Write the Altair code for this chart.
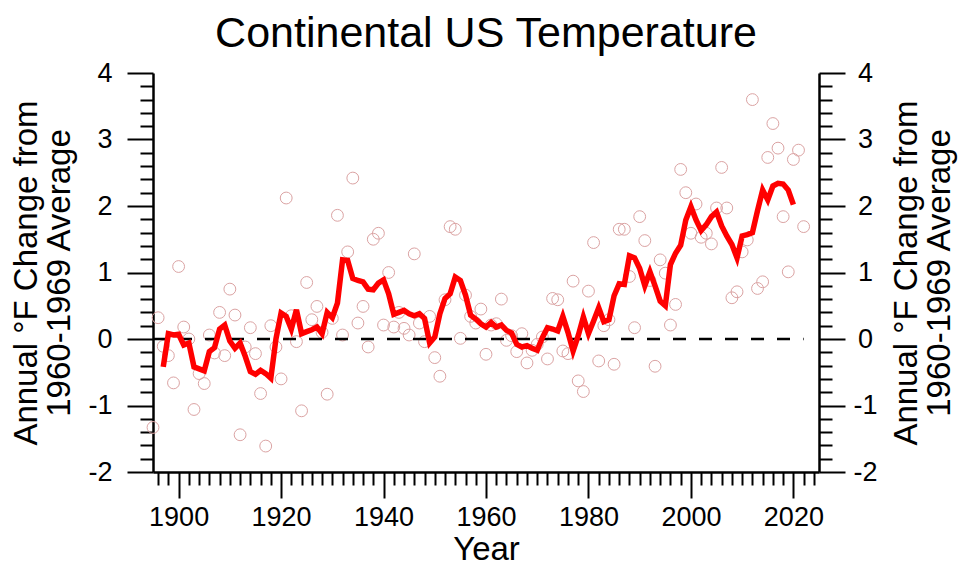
import altair as alt
import pandas as pd

# ---- data ----
YEARS = list(range(1895, 2023))
ANNUAL = [
    -1.33, 0.32, -0.11, -0.25, -0.66, 1.09, 0.18, 0.00, -1.06, -0.52,   # 1895-1904
    -0.67, 0.06, -0.21, 0.40, -0.25, 0.75, 0.36, -1.44, -0.12, 0.17,     # 1905-1914
    -0.22, -0.82, -1.61, 0.20, -0.12, -0.60, 2.12, 0.35, -0.04, -1.08,   # 1915-1924
    0.85, 0.29, 0.49, 0.10, -0.83, 0.31, 1.86, 0.06, 1.31, 2.42,         # 1925-1934
    0.24, 0.49, -0.12, 1.50, 1.59, 0.21, 1.00, 0.18, 0.40, 0.16,         # 1935-1944
    0.06, 1.28, 0.24, -0.04, 0.34, -0.28, -0.56, 0.59, 1.69, 1.65,       # 1945-1954
    0.01, 0.66, 0.34, 0.24, 0.45, -0.23, 0.21, 0.23, 0.60, -0.02,        # 1955-1964
    0.05, -0.19, 0.08, -0.36, -0.17, -0.08, 0.03, -0.30, 0.61, 0.59,     # 1965-1974
    -0.18, -0.22, 0.87, -0.63, -0.79, 0.72, 1.45, -0.33, 0.20, 0.29,     # 1975-1984
    -0.38, 1.65, 1.65, 0.94, 0.17, 1.84, 1.48, 0.88, -0.41, 1.19,        # 1985-1994
    0.99, 0.21, 0.52, 2.55, 2.20, 1.59, 2.03, 1.53, 1.59, 1.43,          # 1995-2004
    1.97, 2.58, 1.97, 0.62, 0.71, 1.31, 1.49, 3.60, 0.76, 0.86,          # 2005-2014
    2.73, 3.24, 2.87, 1.84, 1.01, 2.70, 2.84, 1.69,                      # 2015-2022
]

SMOOTH_YEARS = list(range(1897, 2021))
SMOOTH = [
    -0.42, 0.08, 0.06, 0.07, -0.09, -0.06, -0.42, -0.45,                 # 1897-1904
    -0.48, -0.19, -0.13, 0.15, 0.21, -0.03, -0.14, -0.06, -0.26, -0.49,  # 1905-1914
    -0.53, -0.47, -0.52, -0.59, 0.00, 0.39, 0.34, 0.15, 0.44, 0.08,      # 1915-1924
    0.11, 0.14, 0.18, 0.08, 0.40, 0.32, 0.54, 1.19, 1.18, 0.91,          # 1925-1934
    0.88, 0.86, 0.75, 0.74, 0.84, 0.89, 0.68, 0.37, 0.40, 0.43,          # 1935-1944
    0.38, 0.35, 0.38, 0.31, -0.06, 0.03, 0.38, 0.61, 0.68, 0.93,         # 1945-1954
    0.88, 0.66, 0.36, 0.30, 0.23, 0.18, 0.25, 0.18, 0.21, 0.13,          # 1955-1964
    0.09, -0.08, -0.12, -0.10, -0.14, -0.17, 0.02, 0.17, 0.15, 0.12,     # 1965-1974
    0.34, 0.10, -0.18, 0.05, 0.33, 0.08, 0.27, 0.47, 0.26, 0.29,         # 1975-1984
    0.65, 0.83, 0.82, 1.25, 1.22, 1.06, 0.80, 1.01, 0.80, 0.57,          # 1985-1994
    0.50, 1.12, 1.29, 1.41, 1.79, 1.99, 1.79, 1.63, 1.72, 1.84,          # 1995-2004
    1.91, 1.70, 1.55, 1.42, 1.22, 1.55, 1.57, 1.60, 1.93, 2.24,          # 2005-2014
    2.09, 2.30, 2.34, 2.33, 2.24, 2.02,                                  # 2015-2020
]

ZERO_YEARS = [1895, 2022]
ZERO_VALUES = [0, 0]

X_DOMAIN = [1895, 2025]
Y_DOMAIN = [-2, 4]
X_TICKS = list(range(1896, 2025, 2))
Y_TICKS = [round(-2 + 0.2 * i, 1) for i in range(31)]

TITLE = "Continental US Temperature"
Y_TITLE = ["Annual °F Change from", "1960-1969 Average"]
X_TITLE = "Year"

FONT = "Liberation Sans"

annual_df = pd.DataFrame({"year": YEARS, "value": ANNUAL})
smooth_df = pd.DataFrame({"year": SMOOTH_YEARS, "value": SMOOTH})
zero_df = pd.DataFrame({"year": ZERO_YEARS, "value": ZERO_VALUES})

x_scale = alt.Scale(domain=X_DOMAIN, nice=False, zero=False)
y_scale = alt.Scale(domain=Y_DOMAIN, nice=False, zero=False)

major_x = "datum.value % 20 === 0"
major_y = "abs(datum.value - round(datum.value)) < 0.001"

x_axis = alt.Axis(
    values=X_TICKS,
    labelExpr=f"{major_x} ? '' + datum.value : ''",
    tickSize={"condition": {"test": major_x, "value": 26}, "value": 13},
    labelFont=FONT, labelFontSize=27, labelColor="black", labelPadding=6,
    labelOverlap=False, labelFlush=False, labelBound=False,
    title=X_TITLE, titleFont=FONT, titleFontSize=33, titleFontWeight="normal",
    titleColor="black", titlePadding=3,
    domainColor="black", domainWidth=2.5, tickColor="black", tickWidth=2,
    grid=False,
)

def y_axis(orient):
    common = dict(
        orient=orient,
        values=Y_TICKS,
        labelExpr=f"{major_y} ? '' + round(datum.value) : ''",
        tickSize={"condition": {"test": major_y, "value": 26}, "value": 13},
        labelFont=FONT, labelFontSize=27, labelColor="black",
        labelOverlap=False, labelFlush=False, labelBound=False,
        labelBaseline="middle",
        title=Y_TITLE, titleFont=FONT, titleFontSize=33, titleFontWeight="normal",
        titleColor="black", titleAngle=270, titleAlign="center",
        titleBaseline="alphabetic", titleLineHeight=33, titleY=199.5,
        domainColor="black", domainWidth=2.5, tickColor="black", tickWidth=2,
        grid=False,
    )
    if orient == "left":
        common.update(labelAlign="right", labelPadding=15, titleX=-117)
    else:
        common.update(labelAlign="center", labelPadding=20, titleX=97)
    return alt.Axis(**common)

points = alt.Chart(annual_df).mark_point(
    shape="circle", filled=False, size=140, strokeWidth=1, color="#dba3a3", opacity=1
).encode(
    x=alt.X("year:Q", scale=x_scale, axis=x_axis),
    y=alt.Y("value:Q", scale=y_scale, axis=y_axis("left")),
)

zero = alt.Chart(zero_df).mark_line(
    color="black", strokeWidth=2.5, strokeDash=[13, 13]
).encode(
    x=alt.X("year:Q", scale=x_scale, axis=x_axis),
    y=alt.Y("value:Q", scale=y_scale, axis=None),
)

line = alt.Chart(smooth_df).mark_line(
    color="#ff0000", strokeWidth=5.5
).encode(
    x=alt.X("year:Q", scale=x_scale, axis=x_axis),
    y=alt.Y("value:Q", scale=y_scale, axis=y_axis("right")),
)

chart = alt.layer(points, zero, line).resolve_scale(
    y="shared"
).resolve_axis(
    y="independent"
).properties(
    width=666,
    height=399,
    padding={"left": 145, "top": 65, "right": 139, "bottom": 95},
    autosize=alt.AutoSizeParams(type="none"),
    title=alt.TitleParams(
        TITLE, font=FONT, fontSize=43, fontWeight="normal", color="black",
        anchor="middle", frame="group", baseline="alphabetic", offset=-31,
    ),
).configure_view(stroke=None)

chart.save("out.html", embed_options={"renderer": "svg", "actions": False})
